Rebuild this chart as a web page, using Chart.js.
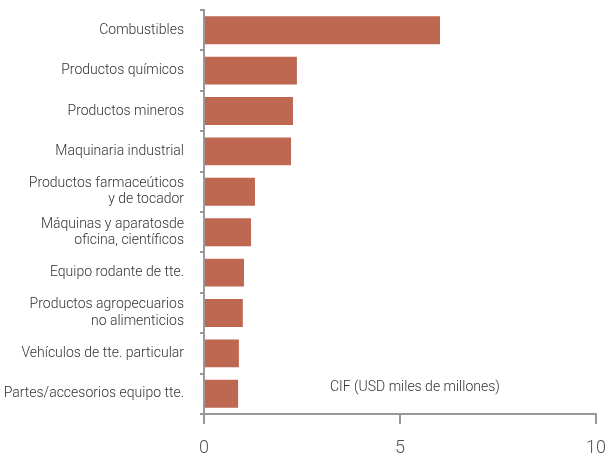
<!DOCTYPE html>
<html>
<head>
<meta charset="utf-8">
<script src="https://cdn.jsdelivr.net/npm/chart.js@4"></script>
<style>
  html, body { margin:0; padding:0; background:#fff; }
  #wrap { width:606px; height:456px; position:relative; }
</style>
</head>
<body>
<div id="wrap"><canvas id="c"></canvas></div>
<script>
/* data */
const categories = [
  'Combustibles',
  'Productos químicos',
  'Productos mineros',
  'Maquinaria industrial',
  ['Productos farmaceúticos', 'y de tocador'],
  ['Máquinas y aparatosde', 'oficina, científicos'],
  'Equipo rodante de tte.',
  ['Productos agropecuarios', 'no alimenticios'],
  'Vehículos de tte. particular',
  'Partes/accesorios equipo tte.'
];
const cifValues = [6.02, 2.37, 2.27, 2.22, 1.30, 1.20, 1.02, 0.99, 0.89, 0.87];
const xTicks = [0, 5, 10];
const seriesLabel = 'CIF (USD miles de millones)';

const FONT = 'Roboto, "Open Sans", sans-serif';

/* label drawn inside the plot, like the original note */
const notePlugin = {
  id: 'note',
  afterDraw(chart){
    const {ctx, chartArea} = chart;
    ctx.save();
    ctx.font = '300 14px ' + FONT;
    ctx.fillStyle = '#333';
    ctx.textBaseline = 'middle';
    ctx.textAlign = 'left';
    ctx.fillText(seriesLabel, chartArea.left + 126, chartArea.top + 377);
    ctx.restore();
  }
};

// no extra room for overflowing tick labels
const noPad = ax => { ax.paddingTop = ax.paddingBottom = ax.paddingLeft = ax.paddingRight = 0; };

new Chart(document.getElementById('c'), {
  type: 'bar',
  data: {
    labels: categories,
    datasets: [{
      label: seriesLabel,
      data: cifValues,
      backgroundColor: '#BE6751',
      categoryPercentage: 0.69,
      barPercentage: 1
    }]
  },
  options: {
    indexAxis: 'y',
    responsive: true,
    maintainAspectRatio: false,
    animation: false,
    layout: { padding: { top: 10, right: 10, left: 0, bottom: 0 } },
    plugins: { legend: { display: false }, tooltip: { enabled: false } },
    scales: {
      x: {
        min: 0, max: 10,
        afterBuildTicks: ax => { ax.ticks = xTicks.map(v => ({value: v})); },
        border: { display: true, color: '#999', width: 2 },
        grid: { drawOnChartArea: false, drawTicks: true, tickLength: 10, color: '#999', lineWidth: 2 },
        ticks: { color: '#555', font: { family: FONT, size: 18, weight: 300 }, padding: 14, maxRotation: 0 },
        afterFit: ax => { ax.height = 42; noPad(ax); }
      },
      y: {
        border: { display: true, color: '#999', width: 2 },
        grid: { offset: true, drawOnChartArea: false, drawTicks: true, tickLength: 4, color: '#999', lineWidth: 2 },
        ticks: { color: '#333', font: { family: FONT, size: 14, weight: 300, lineHeight: 1.15 }, padding: 16, autoSkip: false },
        afterFit: ax => { ax.width = 204; noPad(ax); }
      }
    }
  },
  plugins: [notePlugin]
});
</script>
</body>
</html>
